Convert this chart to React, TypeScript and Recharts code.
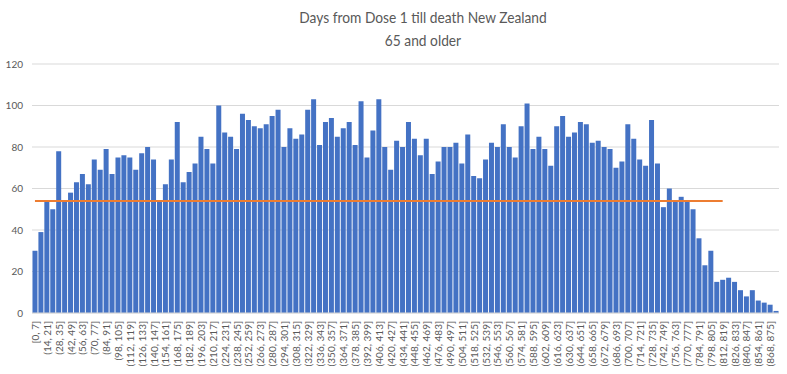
import React from "react";
import { BarChart, Bar, XAxis, YAxis, CartesianGrid, ReferenceLine } from "recharts";

const categories: string[] = [
  "[0, 7]", "(7, 14]", "(14, 21]", "(21, 28]", "(28, 35]", "(35, 42]", "(42, 49]", "(49, 56]", "(56, 63]", "(63, 70]",
  "(70, 77]", "(77, 84]", "(84, 91]", "(91, 98]", "(98, 105]", "(105, 112]", "(112, 119]", "(119, 126]", "(126, 133]", "(133, 140]",
  "(140, 147]", "(147, 154]", "(154, 161]", "(161, 168]", "(168, 175]", "(175, 182]", "(182, 189]", "(189, 196]", "(196, 203]", "(203, 210]",
  "(210, 217]", "(217, 224]", "(224, 231]", "(231, 238]", "(238, 245]", "(245, 252]", "(252, 259]", "(259, 266]", "(266, 273]", "(273, 280]",
  "(280, 287]", "(287, 294]", "(294, 301]", "(301, 308]", "(308, 315]", "(315, 322]", "(322, 329]", "(329, 336]", "(336, 343]", "(343, 350]",
  "(350, 357]", "(357, 364]", "(364, 371]", "(371, 378]", "(378, 385]", "(385, 392]", "(392, 399]", "(399, 406]", "(406, 413]", "(413, 420]",
  "(420, 427]", "(427, 434]", "(434, 441]", "(441, 448]", "(448, 455]", "(455, 462]", "(462, 469]", "(469, 476]", "(476, 483]", "(483, 490]",
  "(490, 497]", "(497, 504]", "(504, 511]", "(511, 518]", "(518, 525]", "(525, 532]", "(532, 539]", "(539, 546]", "(546, 553]", "(553, 560]",
  "(560, 567]", "(567, 574]", "(574, 581]", "(581, 588]", "(588, 595]", "(595, 602]", "(602, 609]", "(609, 616]", "(616, 623]", "(623, 630]",
  "(630, 637]", "(637, 644]", "(644, 651]", "(651, 658]", "(658, 665]", "(665, 672]", "(672, 679]", "(679, 686]", "(686, 693]", "(693, 700]",
  "(700, 707]", "(707, 714]", "(714, 721]", "(721, 728]", "(728, 735]", "(735, 742]", "(742, 749]", "(749, 756]", "(756, 763]", "(763, 770]",
  "(770, 777]", "(777, 784]", "(784, 791]", "(791, 798]", "(798, 805]", "(805, 812]", "(812, 819]", "(819, 826]", "(826, 833]", "(833, 840]",
  "(840, 847]", "(847, 854]", "(854, 861]", "(861, 868]", "(868, 875]", "(875, 882]",
];

const deaths: number[] = [
  30, 39, 54, 50, 78, 54, 58, 63, 67, 62,
  74, 69, 79, 67, 75, 76, 75, 69, 77, 80,
  74, 54, 62, 74, 92, 63, 68, 72, 85, 79,
  72, 100, 87, 85, 79, 96, 93, 90, 89, 91,
  95, 98, 80, 89, 84, 86, 98, 103, 81, 92,
  94, 85, 89, 92, 81, 102, 75, 88, 103, 80,
  69, 83, 80, 92, 84, 76, 84, 67, 73, 80,
  80, 82, 72, 86, 66, 65, 74, 82, 80, 91,
  80, 75, 90, 101, 79, 85, 79, 71, 90, 95,
  85, 87, 92, 91, 82, 83, 80, 79, 70, 73,
  91, 84, 74, 71, 93, 72, 51, 60, 54, 56,
  54, 50, 36, 23, 30, 15, 16, 17, 15, 11,
  8, 11, 6, 5, 4, 1,
];

const averageValue = 54;
const averageStart = "[0, 7]";
const averageEnd = "(812, 819]";

const yTicks: number[] = [0, 20, 40, 60, 80, 100, 120];

const data = categories.map((c, i) => ({ bin: c, deaths: deaths[i] }));

const FONT = "Lato, 'Open Sans', sans-serif";
const GRAY = "#595959";

const XTick = (props: any) => {
  const { x, y, payload } = props;
  return (
    <text
      transform={`translate(${x + 4},${y + 8}) rotate(-90)`}
      textAnchor="end"
      fontSize={10}
      fill={GRAY}
      fontFamily={FONT}
    >
      {payload.value}
    </text>
  );
};

export default function App() {
  return (
    <div style={{ position: "absolute", left: 0, top: 0, width: 787, height: 374, background: "#fff" }}>
      <div
        style={{
          position: "absolute",
          left: 173,
          top: 5,
          width: 500,
          textAlign: "center",
          fontFamily: FONT,
          fontSize: 16,
          lineHeight: "23px",
          color: GRAY,
          transform: "scaleX(0.86)",
          transformOrigin: "50% 50%",
        }}
      >
        <div>Days from Dose 1 till death New Zealand</div>
        <div>65 and older</div>
      </div>
      <BarChart
        width={787}
        height={374}
        data={data}
        margin={{ top: 64, right: 8, bottom: 0, left: 0 }}
        barCategoryGap="8%"
      >
        <CartesianGrid vertical={false} stroke="#d9d9d9" strokeWidth={1} />
        <XAxis
          dataKey="bin"
          interval={1}
          tick={<XTick />}
          tickLine={false}
          axisLine={{ stroke: "#d9d9d9" }}
          tickSize={0}
          tickMargin={0}
          height={61}
        />
        <YAxis
          domain={[0, 120]}
          ticks={yTicks}
          tickLine={false}
          axisLine={false}
          width={32}
          tickSize={0}
          tickMargin={9}
          tick={{ fontSize: 10, fill: GRAY, fontFamily: FONT }}
        />
        <Bar dataKey="deaths" fill="#4472C4" isAnimationActive={false} />
        <ReferenceLine
          segment={[
            { x: averageStart, y: averageValue },
            { x: averageEnd, y: averageValue },
          ]}
          stroke="#ED7D31"
          strokeWidth={2}
          ifOverflow="visible"
        />
      </BarChart>
    </div>
  );
}
